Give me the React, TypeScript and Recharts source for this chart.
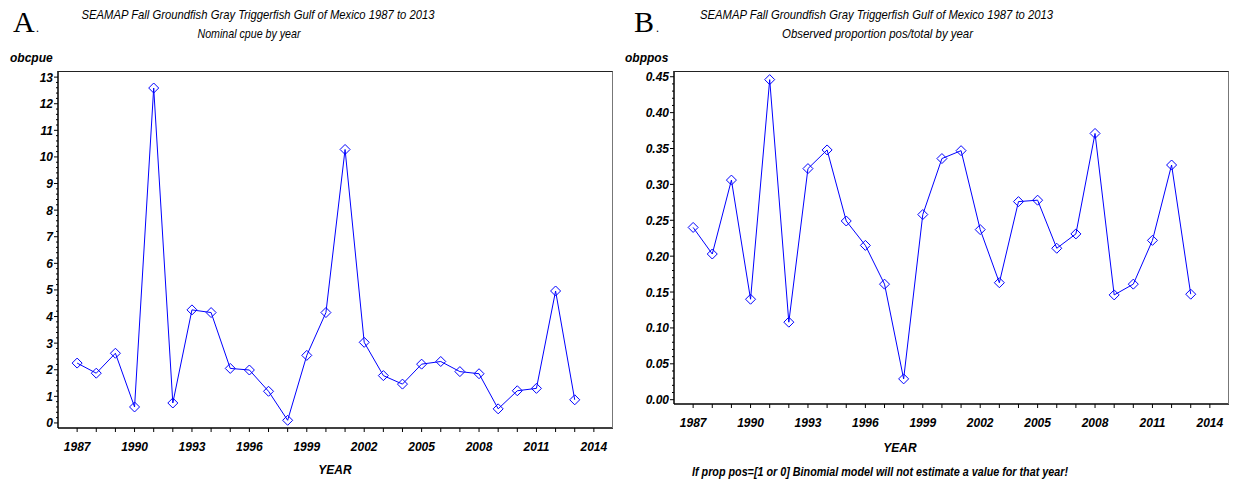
import { LineChart, Line, XAxis, YAxis } from "recharts"

const years = [
  1987, 1988, 1989, 1990, 1991, 1992, 1993, 1994, 1995, 1996, 1997, 1998, 1999, 2000,
  2001, 2002, 2003, 2004, 2005, 2006, 2007, 2008, 2009, 2010, 2011, 2012, 2013,
]

// nominal cpue (panel A)
const obcpue = [
  2.25, 1.87, 2.62, 0.6, 12.59, 0.75, 4.25, 4.15, 2.05, 1.99, 1.19, 0.1, 2.54, 4.15,
  10.28, 3.03, 1.78, 1.46, 2.21, 2.31, 1.93, 1.85, 0.53, 1.21, 1.3, 4.96, 0.87,
]

// observed proportion positive (panel B)
const obppos = [
  0.24, 0.203, 0.306, 0.14, 0.446, 0.108, 0.322, 0.348, 0.249, 0.215, 0.161, 0.029, 0.258, 0.336,
  0.347, 0.237, 0.163, 0.276, 0.278, 0.211, 0.231, 0.371, 0.146, 0.161, 0.222, 0.327, 0.147,
]

const yearTicks = [1987, 1990, 1993, 1996, 1999, 2002, 2005, 2008, 2011, 2014]
const cpueTicks = [0, 1, 2, 3, 4, 5, 6, 7, 8, 9, 10, 11, 12, 13]
const posTicks = [0, 0.05, 0.1, 0.15, 0.2, 0.25, 0.3, 0.35, 0.4, 0.45]

const rows = years.map((year, i) => ({ year, obcpue: obcpue[i], obppos: obppos[i] }))

// every year gets a small tick, labelled ones are in yearTicks
const allYears: number[] = []
for (let y = 1987; y <= 2014; y++) allYears.push(y)

function minorTicks(max: number, step: number) {
  const out: number[] = []
  const n = Math.round(max / step)
  for (let i = 0; i <= n; i++) out.push(+(i * step).toFixed(4))
  return out
}

const FONT = "'Liberation Sans', Arial, sans-serif"
const BLUE = "#0000ff"

function XTick(props: any) {
  const { x, y, payload } = props
  const major = yearTicks.includes(payload.value)
  return (
    <g>
      <line x1={x} x2={x} y1={y} y2={y + 4} stroke="#000" strokeWidth={1} />
      {major && (
        <text x={x} y={y + 23} textAnchor="middle" fontFamily={FONT} fontSize={12}
          fontStyle="italic" fontWeight="bold" fill="#000">
          {payload.value}
        </text>
      )}
    </g>
  )
}

function makeYTick(majors: number[], fmt: (v: number) => string) {
  return function YTick(props: any) {
    const { x, y, payload } = props
    const v = payload.value
    const major = majors.some((m) => Math.abs(m - v) < 1e-6)
    return (
      <g>
        <line x1={x - (major ? 4 : 2)} x2={x} y1={y} y2={y} stroke="#000" strokeWidth={1} />
        {major && (
          <text x={x - 5} y={y + 4.5} textAnchor="end" fontFamily={FONT} fontSize={12}
            fontStyle="italic" fontWeight="bold" fill="#000">
            {fmt(v)}
          </text>
        )}
      </g>
    )
  }
}

function renderDiamond(props: any) {
  const { cx, cy, index } = props
  const r = 5
  return (
    <path key={`dm-${index}`} d={`M${cx},${cy - r}L${cx + r},${cy}L${cx},${cy + r}L${cx - r},${cy}Z`}
      fill="none" stroke={BLUE} strokeWidth={1} />
  )
}

const CpueTick = makeYTick(cpueTicks, (v) => String(v))
const PosTick = makeYTick(posTicks, (v) => v.toFixed(2))

const txt = { fontFamily: FONT, fontStyle: "italic" as const, fill: "#000" }

export default function App() {
  return (
    <div style={{ position: "absolute", left: 0, top: 0, width: 1238, height: 487, background: "#fff" }}>
      <div style={{ position: "absolute", left: 0, top: 0 }}>
        <LineChart width={620} height={487} data={rows} margin={{ top: 71, right: 7, bottom: 29, left: 0 }}>
          <XAxis dataKey="year" type="number" domain={[1986, 2015]} ticks={allYears} interval={0}
            allowDataOverflow tickSize={0} tickMargin={0} tickLine={false} height={30}
            axisLine={{ stroke: "#000", strokeWidth: 1.5 }} tick={<XTick />} />
          <YAxis type="number" domain={[-0.19, 13.23]} ticks={minorTicks(13, 0.2)} interval={0}
            allowDataOverflow tickSize={0} tickMargin={0} tickLine={false} width={58}
            axisLine={{ stroke: "#000", strokeWidth: 1.5 }} tick={<CpueTick />} />
          <Line dataKey="obcpue" type="linear" stroke={BLUE} strokeWidth={1}
            dot={renderDiamond} activeDot={false} isAnimationActive={false} />
        </LineChart>
        <div style={{ position: "absolute", left: 58, top: 71, width: 555, height: 357, boxSizing: "border-box",
          borderTop: "1px solid #222", borderRight: "1.5px solid #777", pointerEvents: "none" }} />
      </div>

      <div style={{ position: "absolute", left: 620, top: 0 }}>
        <LineChart width={618} height={487} data={rows} margin={{ top: 71, right: 9, bottom: 53, left: 0 }}>
          <XAxis dataKey="year" type="number" domain={[1986, 2015]} ticks={allYears} interval={0}
            allowDataOverflow tickSize={0} tickMargin={0} tickLine={false} height={30}
            axisLine={{ stroke: "#000", strokeWidth: 1.5 }} tick={<XTick />} />
          <YAxis type="number" domain={[-0.006, 0.458]} ticks={minorTicks(0.45, 0.01)} interval={0}
            allowDataOverflow tickSize={0} tickMargin={0} tickLine={false} width={54}
            axisLine={{ stroke: "#000", strokeWidth: 1.5 }} tick={<PosTick />} />
          <Line dataKey="obppos" type="linear" stroke={BLUE} strokeWidth={1}
            dot={renderDiamond} activeDot={false} isAnimationActive={false} />
        </LineChart>
        <div style={{ position: "absolute", left: 54, top: 71, width: 555, height: 333, boxSizing: "border-box",
          borderTop: "1px solid #222", borderRight: "1.5px solid #777", pointerEvents: "none" }} />
      </div>

      <svg width={1238} height={487} style={{ position: "absolute", left: 0, top: 0, pointerEvents: "none" }}>
        <text x={13} y={32} fontFamily="'Liberation Serif', 'Times New Roman', serif" fontSize={30} fill="#000">A</text>
        <text x={36} y={32} fontFamily="'Liberation Serif', serif" fontSize={12} fill="#000">.</text>
        <text x={258} y={18.5} textAnchor="middle" fontSize={13} textLength={353} lengthAdjust="spacingAndGlyphs" {...txt}>
          SEAMAP Fall Groundfish Gray Triggerfish Gulf of Mexico 1987 to 2013
        </text>
        <text x={249} y={37.5} textAnchor="middle" fontSize={13} textLength={103} lengthAdjust="spacingAndGlyphs" {...txt}>
          Nominal cpue by year
        </text>
        <text x={10} y={62} fontSize={12} fontWeight="bold" {...txt}>obcpue</text>
        <text x={335} y={474} textAnchor="middle" fontSize={12} fontWeight="bold" {...txt}>YEAR</text>

        <text x={634} y={32} fontFamily="'Liberation Serif', 'Times New Roman', serif" fontSize={30} fill="#000">B</text>
        <text x={656} y={32} fontFamily="'Liberation Serif', serif" fontSize={12} fill="#000">.</text>
        <text x={876.5} y={18.5} textAnchor="middle" fontSize={13} textLength={353} lengthAdjust="spacingAndGlyphs" {...txt}>
          SEAMAP Fall Groundfish Gray Triggerfish Gulf of Mexico 1987 to 2013
        </text>
        <text x={877.5} y={37.5} textAnchor="middle" fontSize={13} textLength={191} lengthAdjust="spacingAndGlyphs" {...txt}>
          Observed proportion pos/total by year
        </text>
        <text x={625} y={62} fontSize={12} fontWeight="bold" {...txt}>obppos</text>
        <text x={900} y={452} textAnchor="middle" fontSize={12} fontWeight="bold" {...txt}>YEAR</text>
        <text x={880} y={476} textAnchor="middle" fontSize={12} fontWeight="bold" textLength={376}
          lengthAdjust="spacingAndGlyphs" {...txt}>
          If prop pos=[1 or 0] Binomial model will not estimate a value for that year!
        </text>
      </svg>
    </div>
  )
}
